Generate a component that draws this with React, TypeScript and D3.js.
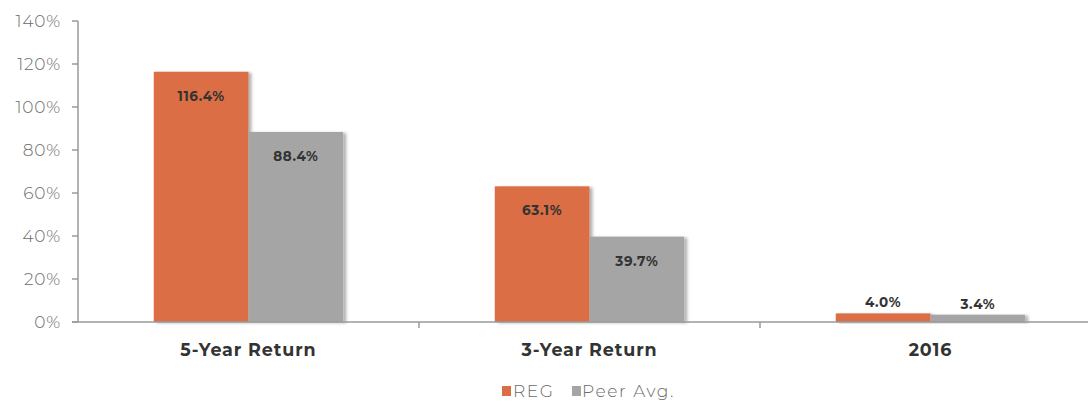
import React from 'react';
import * as d3 from 'd3';

const categories = ['5-Year Return', '3-Year Return', '2016'];
const series = ['REG', 'Peer Avg.'];
const regValues = [116.4, 63.1, 4.0];
const peerValues = [88.4, 39.7, 3.4];
const yTicks = [0, 20, 40, 60, 80, 100, 120, 140];
const colors = ['#DC6E44', '#A5A5A5'];

const width = 1090,
	height = 403,
	margin = { top: 21, right: 2, bottom: 81, left: 78 };

const App = () => {
	const x0 = d3
			.scaleBand<string>()
			.domain( categories )
			.range( [ margin.left, margin.left + 3 * 341 ] ),
		x1 = d3
			.scaleBand<string>()
			.domain( series )
			.range( [ 0, x0.bandwidth() ] )
			.paddingInner( 0 )
			.paddingOuter( 0.8 ),
		y = d3
			.scaleLinear()
			.domain( [ 0, 140 ] )
			.range( [ height - margin.bottom, margin.top ] ),
		color = d3.scaleOrdinal<string, string>().domain( series ).range( colors ),
		fmt = ( v: number ) => `${d3.format( '.1f' )( v )}%`;

	const rows = categories.map( ( c, i ) => [
		{ cat: c, key: series[ 0 ], value: regValues[ i ] },
		{ cat: c, key: series[ 1 ], value: peerValues[ i ] },
	] );

	const font = "'Montserrat', 'Lato', 'Open Sans', sans-serif";
	const y0 = y( 0 );

	return (
		<svg width={width} height={height} style={{ position: 'absolute', left: 0, top: 0 }}>
			<defs>
				<filter id="shadow" x="-10%" y="-10%" width="130%" height="130%">
					<feDropShadow dx="3" dy="1" stdDeviation="1.5" floodColor="#000" floodOpacity="0.3" />
				</filter>
			</defs>
			<rect width={width} height={height} fill="#fff" />

			{/* y axis */}
			<line x1={margin.left} x2={margin.left} y1={y( 140 )} y2={y0} stroke="#9a9a9a" strokeWidth={1.5} />
			{yTicks.map( ( t ) => (
				<g key={t} transform={`translate(0,${y( t )})`}>
					<line x1={margin.left - 6} x2={margin.left} stroke="#9a9a9a" strokeWidth={1.5} />
					<text
						x={margin.left - 17}
						dy="0.35em"
						textAnchor="end"
						fontFamily={font}
						fontSize={17}
						letterSpacing={0.8}
						fontWeight={300}
						fill="#6b6b6b"
					>
						{t}%
					</text>
				</g>
			) )}

			{/* bars */}
			{rows.map( ( group, gi ) => (
				<g key={gi} transform={`translate(${x0( categories[ gi ] )},0)`}>
					{group.map( ( d ) => {
						const bx = x1( d.key )!,
							by = y( d.value ),
							bh = y0 - by,
							tall = bh > 30;
						return (
							<g key={d.key}>
								<rect
									x={bx}
									y={by}
									width={x1.bandwidth()}
									height={bh}
									fill={color( d.key )}
									filter="url(#shadow)"
								/>
								<text
									x={bx + x1.bandwidth() / 2}
									y={tall ? by + 29 : by - 6}
									textAnchor="middle"
									fontFamily={font}
									fontWeight="bold"
									fontSize={13.5}
									letterSpacing={0.6}
									fill="#333"
								>
									{fmt( d.value )}
								</text>
							</g>
						);
					} )}
				</g>
			) )}

			{/* x axis */}
			<line x1={margin.left - 6} x2={width - 2} y1={y0} y2={y0} stroke="#9a9a9a" strokeWidth={1.5} />
			{categories.map( ( c, i ) => (
				<g key={c}>
					{i > 0 && (
						<line
							x1={x0( c )}
							x2={x0( c )}
							y1={y0}
							y2={y0 + 6}
							stroke="#9a9a9a"
							strokeWidth={1.5}
						/>
					)}
					<text
						x={x0( c )! + x0.bandwidth() / 2}
						y={356}
						textAnchor="middle"
						fontFamily={font}
						fontWeight="bold"
						fontSize={17.5}
						letterSpacing={0.9}
						fill="#333"
					>
						{c}
					</text>
				</g>
			) )}

			{/* legend */}
			<g transform="translate(502,0)">
				<rect x={0} y={386} width={9} height={10} fill={colors[ 0 ]} />
				<text x={11} y={397} fontFamily={font} fontSize={17} letterSpacing={1.6} fontWeight={300} fill="#6b6b6b">
					{series[ 0 ]}
				</text>
				<rect x={70} y={386} width={9} height={10} fill={colors[ 1 ]} />
				<text x={80} y={397} fontFamily={font} fontSize={17} letterSpacing={1.6} fontWeight={300} fill="#6b6b6b">
					{series[ 1 ]}
				</text>
			</g>
		</svg>
	);
};

export default App;
